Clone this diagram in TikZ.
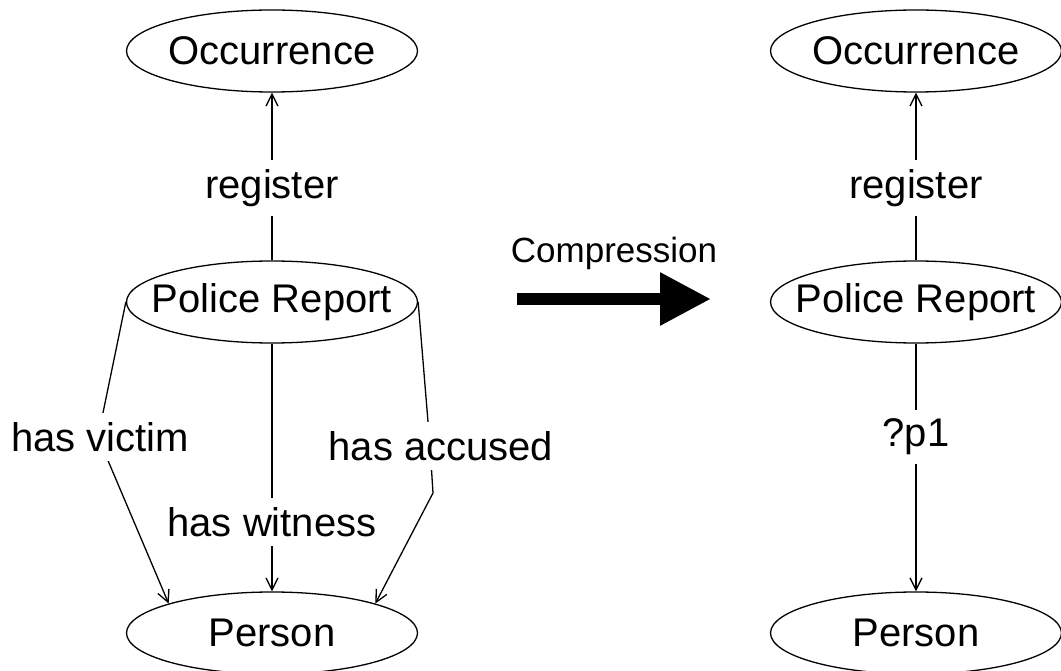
\documentclass[tikz,border=0pt]{standalone}
\usepackage{fontspec}
\setmainfont{Liberation Sans}
\usetikzlibrary{shapes.geometric,arrows.meta}
\newcommand{\zerow}[1]{\makebox[0pt]{#1}}
\tikzset{
  cls/.style={ellipse,draw,line width=1.3pt,minimum width=291pt,minimum height=82pt,inner sep=0pt,font=\fontsize{40}{48}\selectfont},
  lbl/.style={fill=white,inner xsep=4pt,inner ysep=9pt,font=\fontsize{40}{48}\selectfont},
  arr/.style={line width=1.3pt,-{Straight Barb[length=12pt,width=12pt,line width=1.3pt]}},
}
\begin{document}
\begin{tikzpicture}[x=1pt,y=-1pt]
\useasboundingbox (0,0) rectangle (1061,671);
% left graph
\node[cls] (occ) at (272,51) {\zerow{Occurrence}};
\node[cls] (pr) at (272,302) {\zerow{Police Report}};
\node[cls] (per) at (272,633) {\zerow{Person}};
% right graph
\node[cls] (occ2) at (916,51) {\zerow{Occurrence}};
\node[cls] (pr2) at (916,302) {\zerow{Police Report}};
\node[cls] (per2) at (916,633) {\zerow{Person}};
% bend points
\coordinate (v1) at (98,437);
\coordinate (a1) at (430,446);
\coordinate (a2) at (433,493);
% connectors
\draw[arr] (pr) -- (occ);
\draw[arr] (pr) -- (per);
\draw[arr] (pr.west) -- (v1) -- (per.north west);
\draw[arr] (pr.east) -- (a1) -- (a2) -- (per.north east);
\draw[arr] (pr2) -- (occ2);
\draw[arr] (pr2) -- (per2);
% labels
\node[lbl] (reg) at (272,188) {register};
\node[lbl] (vic) at (100,437) {has victim};
\node[lbl] (wit) at (272,522) {has witness};
\node[lbl] (acc) at (441,446) {has accused};
\node[lbl] (reg2) at (916,188) {register};
\node[lbl] (p1) at (916,437) {?p1};
% compression arrow
\node[font=\fontsize{35}{42}\selectfont,inner sep=0pt] (comp) at (614,253) {Compression};
\coordinate (cs) at (517,299);
\coordinate (ce) at (711,299);
\draw[line width=12pt,-{Triangle[length=51pt,width=50pt]}] (cs) -- (ce);
\end{tikzpicture}
\end{document}
